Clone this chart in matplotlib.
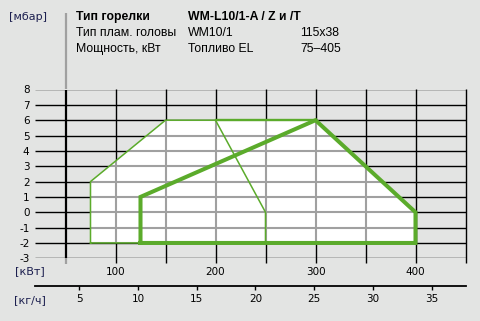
import numpy as np
import matplotlib.pyplot as plt
from matplotlib.patches import Polygon

# ---- data ----
mbar_ticks = list(range(-3, 9))
kw_grid = [50, 100, 150, 200, 250, 300, 350, 400, 450]
kw_ticks = [100, 200, 300, 400]
kg_ticks = [5, 10, 15, 20, 25, 30, 35]

# working field, thin outline
thin_kw = [75, 75, 150, 200, 250, 250, 75]
thin_mbar = [-2, 2, 6, 6, 0, -2, -2]
# working field, thick outline
thick_kw = [125, 125, 300, 400, 400, 125]
thick_mbar = [-2, 1, 6, 0, -2, -2]
# top edge between the two fields
top_kw = [200, 300]
top_mbar = [6, 6]
# outer envelope (white area)
env_kw = [75, 75, 150, 300, 400, 400]
env_mbar = [-2, 2, 6, 6, 0, -2]

# kW <-> kg/h for fuel oil EL
def kw_to_kg(x):
    return (np.asarray(x) - 5.1) / 11.74

def kg_to_kw(x):
    return np.asarray(x) * 11.74 + 5.1

bg = '#e3e4e3'
green = '#5bab2b'
navy = '#1c1f4f'
grey = '#a0a0a0'

W, H = 480, 321
fig = plt.figure(figsize=(W / 100, H / 100), dpi=100, facecolor=bg)
ax = fig.add_axes([35 / W, 1 - 258.3 / H, 430.5 / W, 168.8 / H])
ax.set_facecolor(bg)
ax.set_xlim(19.5, 450)
ax.set_ylim(-3, 8)
for s in ax.spines.values():
    s.set_visible(False)

# black grid
ax.hlines(mbar_ticks, 19.5, 450, color='black', lw=1.0, zorder=1)
ax.vlines(kw_grid[1:], -3.33, 8, color='black', lw=1.0, zorder=1, clip_on=False)
ax.vlines(50, -3, 8, color='black', lw=1.6, zorder=1)
ax.vlines(50, 8, 12.98, color=grey, lw=1.6, zorder=1, clip_on=False)
ax.vlines(50, -3.37, -3, color=grey, lw=1.6, zorder=1, clip_on=False)

# white envelope with grey grid inside
env = Polygon(np.column_stack([env_kw, env_mbar]), closed=True,
              facecolor='white', edgecolor='none', zorder=2)
ax.add_patch(env)
hl = ax.hlines(mbar_ticks, 19.5, 450, color=grey, lw=1.5, zorder=3)
vl = ax.vlines(kw_grid, -3, 8, color=grey, lw=1.5, zorder=3)
hl.set_clip_path(env)
vl.set_clip_path(env)

# field outlines
ax.plot(thin_kw, thin_mbar, color=green, lw=1.1, zorder=4, solid_joinstyle='miter')
ax.plot(top_kw, top_mbar, color=green, lw=1.7, zorder=4)
ax.plot(thick_kw, thick_mbar, color=green, lw=2.9, zorder=5, solid_joinstyle='miter')

# ticks
ax.set_yticks(mbar_ticks)
ax.set_yticklabels([str(v) for v in mbar_ticks])
ax.set_xticks(kw_ticks)
ax.tick_params(axis='y', length=0, pad=4, labelsize=7.5)
ax.tick_params(axis='x', length=0, pad=6.5, labelsize=7.5)

sec = ax.secondary_xaxis(-0.164, functions=(kw_to_kg, kg_to_kw))
sec.set_xticks(kg_ticks)
sec.spines['bottom'].set_linewidth(1.3)
sec.tick_params(axis='x', length=3, width=1.0, pad=3, labelsize=7.5)

# unit labels
fig.text(30 / W, 1 - 271 / H, '[кВт]', color=navy, fontsize=8, ha='center', va='center')
fig.text(30 / W, 1 - 300 / H, '[кг/ч]', color=navy, fontsize=8, ha='center', va='center')
fig.text(28 / W, 1 - 17 / H, '[мбар]', color=navy, fontsize=8, ha='center', va='center')

# header
hf = ['Liberation Sans', 'DejaVu Sans']
rows = [
    ('Тип горелки', 'WM-L10/1-A / Z и /T', ''),
    ('Тип плам. головы', 'WM10/1', '115x38'),
    ('Мощность, кВт', 'Топливо EL', '75–405'),
]
ys = [17, 33, 49]
for i, (a, b, c) in enumerate(rows):
    w = 'bold' if i == 0 else 'normal'
    y = 1 - ys[i] / H
    fig.text(76 / W, y, a, fontsize=8.8, fontweight=w, family=hf, va='center')
    fig.text(188 / W, y, b, fontsize=8.8, fontweight=w, family=hf, va='center')
    if c:
        fig.text(300 / W, y, c, fontsize=8.8, family=hf, va='center')

fig.savefig('out.png', dpi=100, facecolor=bg)
